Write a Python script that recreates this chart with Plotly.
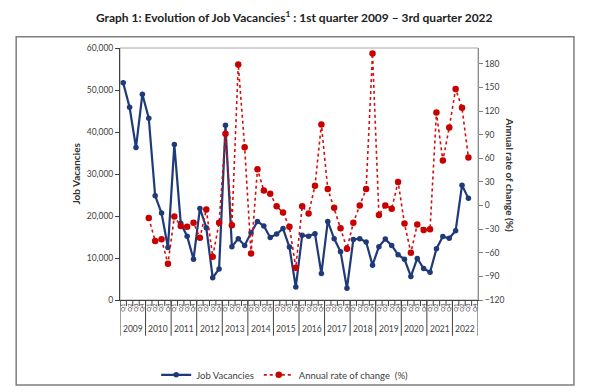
import plotly.graph_objects as go

years = ["2009", "2010", "2011", "2012", "2013", "2014", "2015", "2016",
         "2017", "2018", "2019", "2020", "2021", "2022"]
quarters = ["Q1", "Q2", "Q3", "Q4"]

job_vacancies = [
    51700, 45900, 36300, 49000,
    43300, 24800, 20700, 12500,
    37000, 18300, 15200, 9700,
    21800, 17200, 5300, 7400,
    41600, 12700, 14600, 13000,
    16000, 18700, 17600, 14900,
    15700, 17000, 12600, 3100,
    15400, 15200, 15800, 6300,
    18700, 14600, 11500, 2800,
    14400, 14600, 13800, 8300,
    12700, 14500, 13000, 10800,
    9700, 5600, 9900, 7500,
    6600, 12200, 15100, 14700,
    16500, 27300, 24200,
]

annual_rate = [
    None, None, None, None,
    -16, -45, -43, -74,
    -14, -26, -27, -22,
    -41, -5, -65, -22,
    91, -25, 179, 74,
    -61, 46, 19, 15,
    -1, -9, -27, -79,
    -1, -10, 25, 103,
    21, -3, -29, -55,
    -22, 0, 21, 193,
    -12, 0, -4, 30,
    -23, -60, -24, -31,
    -30, 118, 57, 99,
    148, 124, 61,
]

FONT = "Lato"
n_cat = len(years) * len(quarters)
cat_labels = [q for _ in years for q in quarters]
xs = list(range(len(job_vacancies)))

fig = go.Figure()
fig.add_trace(go.Scatter(
    x=xs, y=job_vacancies, name="Job Vacancies", mode="lines+markers",
    line=dict(color="#1F3A78", width=2.2),
    marker=dict(color="#1F3A78", size=5.5),
    yaxis="y",
))
fig.add_trace(go.Scatter(
    x=xs, y=annual_rate, name="Annual rate of change  (%)", mode="lines+markers",
    line=dict(color="#D01010", width=1.6, dash="dot"),
    marker=dict(color="#C80000", size=6.5),
    connectgaps=False,
    yaxis="y2",
))

shapes = []
# outer frame
shapes.append(dict(type="rect", xref="paper", yref="paper",
                   x0=-0.29, x1=1.268, y0=-0.337, y1=1.045,
                   line=dict(color="#7F7F7F", width=1.5), fillcolor="rgba(0,0,0,0)",
                   layer="above"))
# plot area border
shapes.append(dict(type="rect", xref="paper", yref="paper",
                   x0=0, x1=1, y0=0, y1=1,
                   line=dict(color="#A6A6A6", width=1), fillcolor="rgba(0,0,0,0)",
                   layer="below"))
# quarter boundary tick marks
for i in range(n_cat + 1):
    shapes.append(dict(type="line", xref="x", yref="paper",
                       x0=i - 0.5, x1=i - 0.5, y0=0, y1=-0.024,
                       line=dict(color="#404040", width=1)))
# year separators
for k in range(len(years) + 1):
    xb = k * len(quarters) - 0.5
    shapes.append(dict(type="line", xref="x", yref="paper",
                       x0=xb, x1=xb, y0=0, y1=-0.142,
                       line=dict(color="#404040", width=1)))

annotations = []
for k, yr in enumerate(years):
    annotations.append(dict(x=k * len(quarters) + 1.5, y=-0.117, xref="x", yref="paper",
                            text=yr, showarrow=False,
                            font=dict(family=FONT, size=8.5, color="#404040"),
                            xanchor="center", yanchor="middle"))
annotations.append(dict(x=-0.124, y=0.5, xref="paper", yref="paper",
                        text="<b>Job Vacancies</b>", textangle=-90, showarrow=False,
                        font=dict(family=FONT, size=10, color="#333333"),
                        xanchor="center", yanchor="middle"))
annotations.append(dict(x=1.088, y=0.5, xref="paper", yref="paper",
                        text="<b>Annual rate of change (%)</b>", textangle=90, showarrow=False,
                        font=dict(family=FONT, size=10, color="#333333"),
                        xanchor="center", yanchor="middle"))

fig.update_layout(
    width=600, height=392,
    paper_bgcolor="white", plot_bgcolor="white",
    margin=dict(l=111.5, r=129.5, t=39.5, b=99.5, autoexpand=False),
    title=dict(text="<b>Graph 1: Evolution of Job Vacancies<sup>1</sup> : 1st quarter 2009 – 3rd quarter 2022</b>",
               x=0.477, xanchor="center", y=0.974, yanchor="middle",
               font=dict(family=FONT, size=12, color="#222222")),
    font=dict(family=FONT, color="#404040"),
    xaxis=dict(
        range=[-0.5, n_cat - 0.5],
        tickmode="array", tickvals=list(range(n_cat)), ticktext=cat_labels,
        tickangle=-90, tickfont=dict(family=FONT, size=6, color="#404040"),
        ticks="", showgrid=False, zeroline=False,
        showline=True, linecolor="#404040", linewidth=1,
    ),
    yaxis=dict(
        range=[0, 60000], tickmode="linear", tick0=0, dtick=10000,
        tickformat=",d", tickfont=dict(family=FONT, size=8.5, color="#404040"),
        ticks="outside", ticklen=4, tickcolor="#404040",
        showgrid=False, zeroline=False,
        showline=True, linecolor="#404040", linewidth=1,
    ),
    yaxis2=dict(
        range=[-120, 200], overlaying="y", side="right",
        tickmode="array", tickvals=list(range(-120, 181, 30)),
        tickfont=dict(family=FONT, size=8.5, color="#404040"),
        ticks="outside", ticklen=4, tickcolor="#7F7F7F",
        showgrid=False, zeroline=False,
        showline=True, linecolor="#8C8C8C", linewidth=1,
    ),
    legend=dict(orientation="h", x=0.46, xanchor="center", y=-0.297, yanchor="middle",
                font=dict(family=FONT, size=9.5, color="#404040"),
                itemwidth=30, bgcolor="rgba(0,0,0,0)"),
    shapes=shapes,
    annotations=annotations,
)

fig.write_html("out.html")
